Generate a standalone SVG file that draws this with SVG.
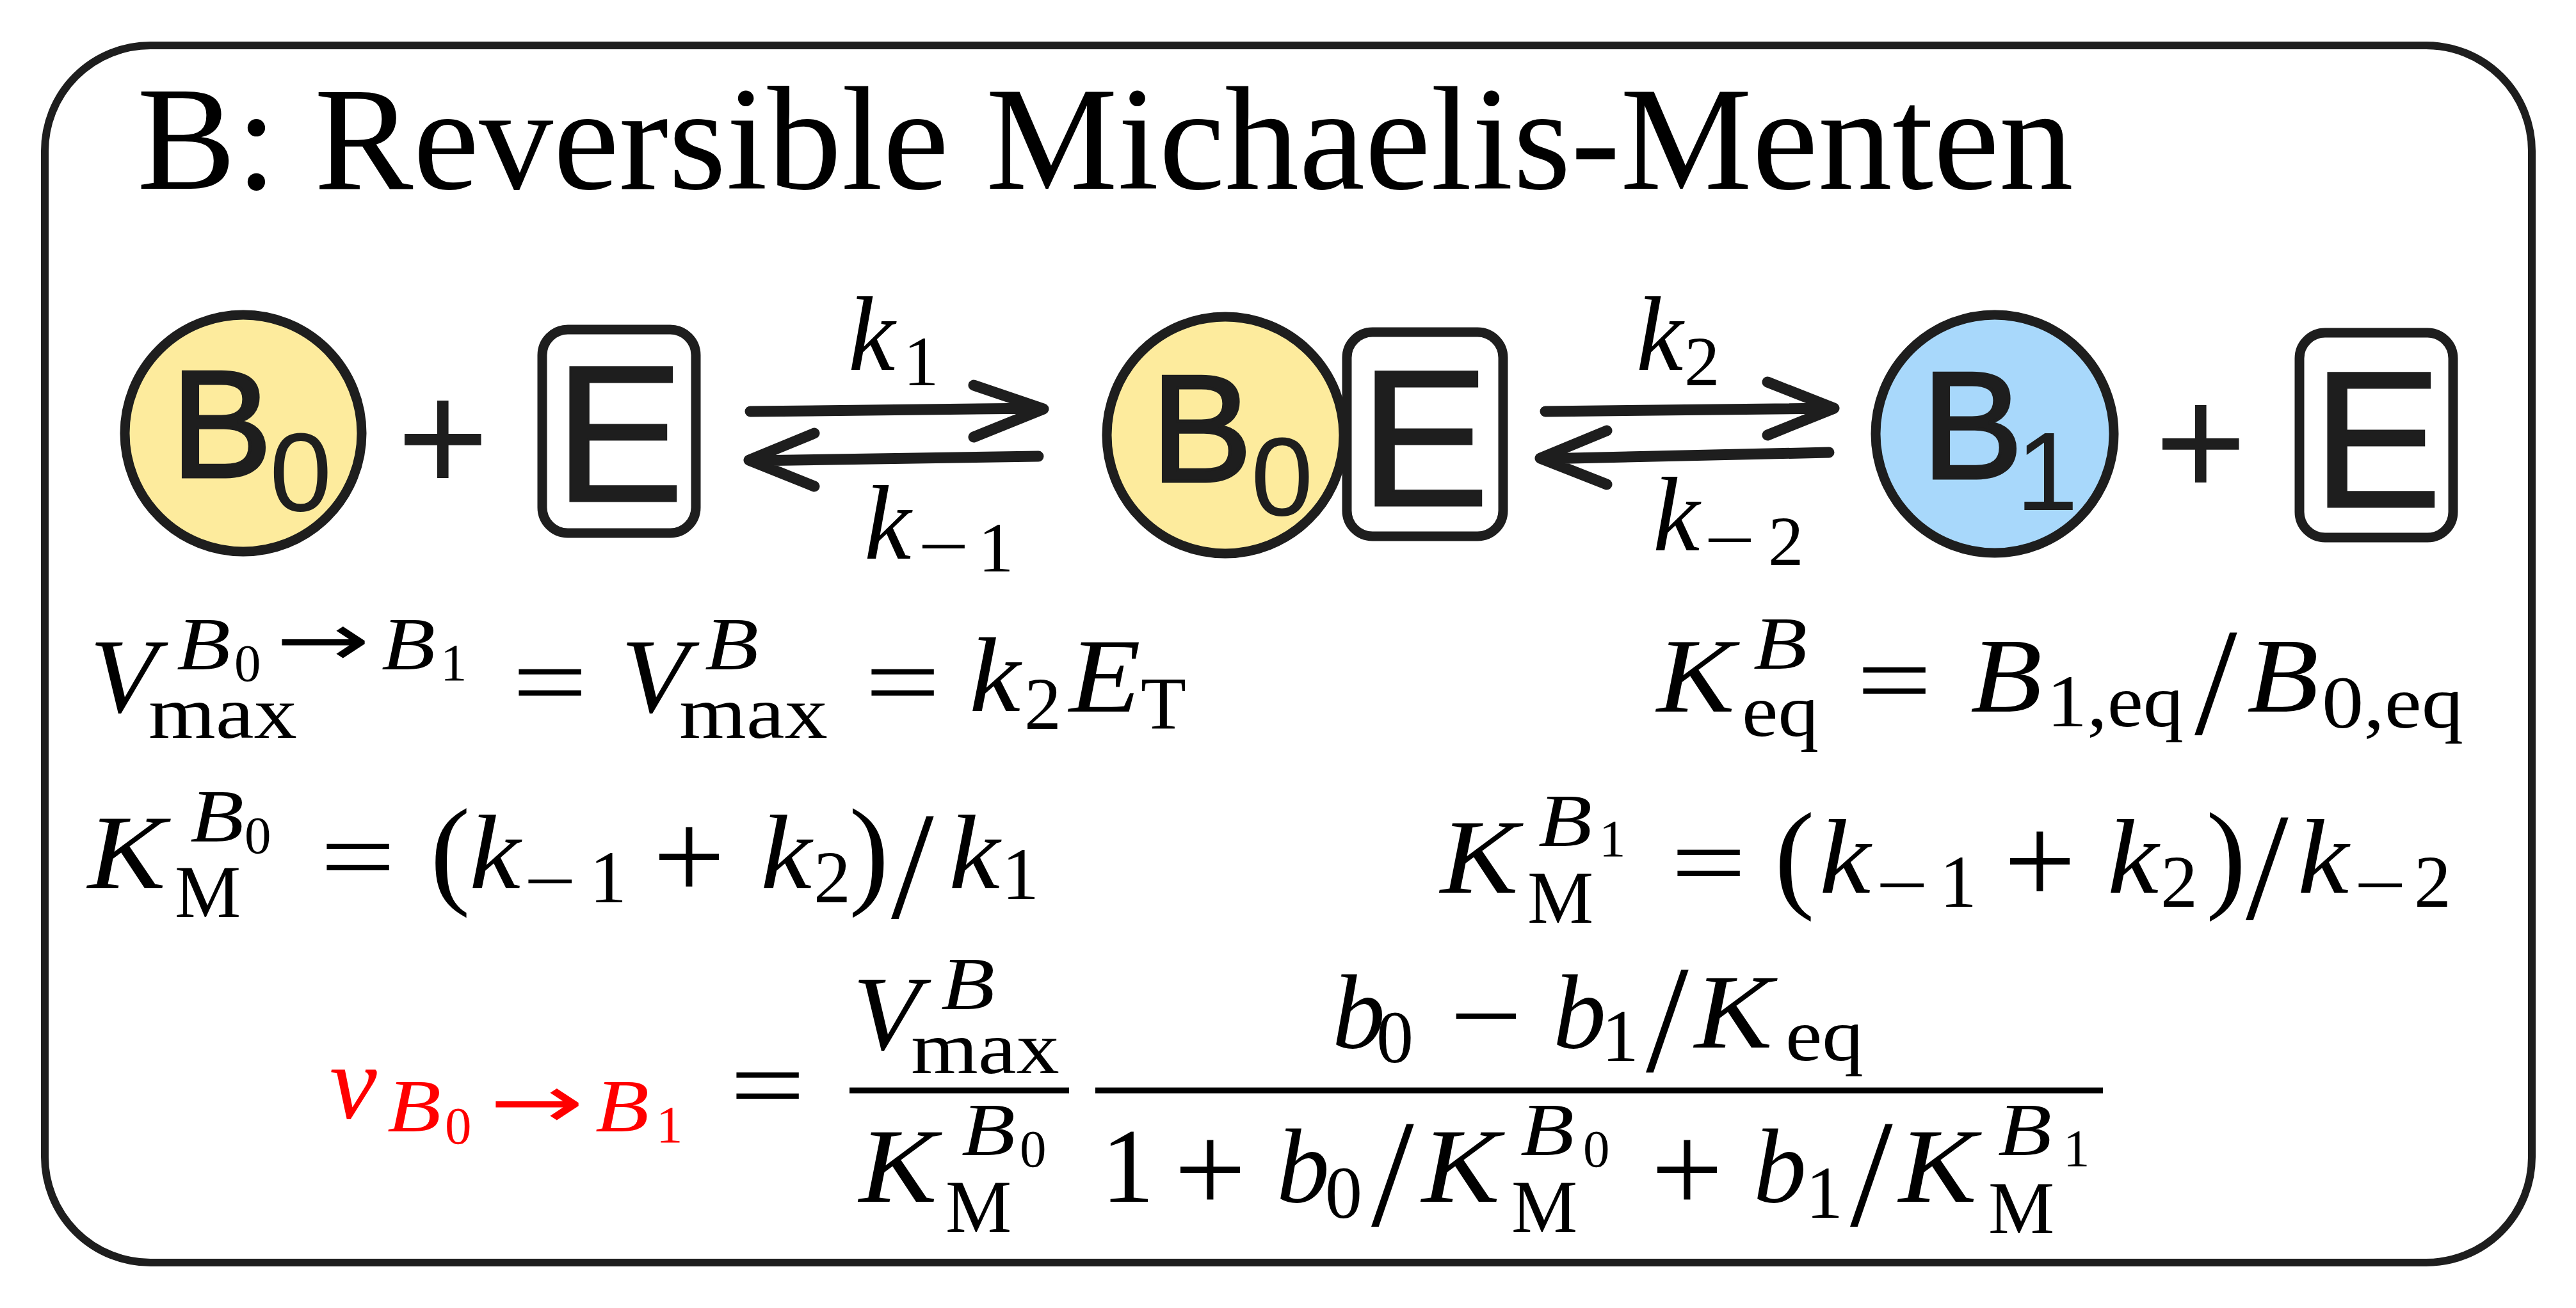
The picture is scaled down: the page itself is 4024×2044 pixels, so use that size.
<svg xmlns="http://www.w3.org/2000/svg" width="4024" height="2044" viewBox="0 0 4024 2044">
<style>
.frame{fill:#fff;stroke:#1e1e1e;stroke-width:12}
.b0{fill:#fdeb9d;stroke:#1e1e1e;stroke-width:15}
.b1{fill:#a8d8fb;stroke:#1e1e1e;stroke-width:15}
.ebox{fill:#fff;stroke:#1e1e1e;stroke-width:15}
.nl{font-family:"Liberation Sans",Arial,sans-serif;fill:#1e1e1e}
.nb{font-size:237px;stroke:#1e1e1e;stroke-width:5}
.ns{font-size:175px;stroke:none}
.ne{font-size:304px;stroke:#1e1e1e;stroke-width:3}
.np{font-size:246px}
.arr{fill:none;stroke:#1e1e1e;stroke-width:17;stroke-linecap:round;stroke-linejoin:round}
.title{font-family:"Liberation Serif",serif;font-size:231px;fill:#000}
.eq{font-family:"Liberation Serif","DejaVu Serif",serif;font-size:166px;fill:#000}
.m{font-style:italic;font-size:166px}
.r{font-style:normal;font-size:166px}
.s{font-style:italic;font-size:116px}
.sr{font-style:normal;font-size:116px}
.ss{font-style:normal;font-size:83px}
.ar{font-family:"DejaVu Sans",sans-serif;font-style:normal;font-size:116px}
.pl{font-style:normal;font-size:200px}
.pa{font-style:normal;font-size:188px}
.sl{font-style:normal;font-size:240px}
.kl{font-style:italic;font-size:165px}
.kr{font-style:normal;font-size:111px}
.red{fill:#ff0000}
.bar{stroke:#000;stroke-width:9}
</style>

<rect class="frame" x="70" y="71" width="3885" height="1902" rx="165" ry="165"/>

<text class="title" x="214" y="295" textLength="3025" lengthAdjust="spacingAndGlyphs">B: Reversible Michaelis-Menten</text>

<g id="node-B0">
  <circle class="b0" cx="380" cy="677" r="185"/>
  <text class="nl nb" x="267" y="745">B<tspan class="ns" x="421" y="798">0</tspan></text>
</g>
<g id="plus-1"><text class="nl np" x="620" y="769">+</text></g>
<g id="node-E1">
  <rect class="ebox" x="847" y="515" width="240" height="318" rx="40"/>
  <text class="nl ne" x="866" y="783">E</text>
</g>

<g id="node-B0E">
  <circle class="b0" cx="1914" cy="680" r="185"/>
  <text class="nl nb" x="1798" y="752">B<tspan class="ns" x="1954" y="805">0</tspan></text>
  <rect class="ebox" x="2104" y="519" width="244" height="319" rx="40"/>
  <text class="nl ne" x="2124" y="790">E</text>
</g>

<g id="node-B1">
  <circle class="b1" cx="3116" cy="678" r="186"/>
  <text class="nl nb" x="3002" y="747">B<tspan class="ns" x="3149" y="797">1</tspan></text>
</g>
<g id="plus-2"><text class="nl np" x="3366" y="776">+</text></g>
<g id="node-E3">
  <rect class="ebox" x="3592" y="520" width="240" height="320" rx="40"/>
  <text class="nl ne" x="3612" y="792">E</text>
</g>

<g id="connectors">
  <path class="arr" d="M1172,643 L1626,638 M1521,602 L1630,639 L1521,683"/>
  <path class="arr" d="M1622,713 L1174,720 M1272,677 L1170,719 L1272,760"/>
  <path class="arr" d="M2414,643 L2861,638 M2761,597 L2865,638 L2761,680"/>
  <path class="arr" d="M2857,707 L2410,717 M2510,673 L2406,716 L2510,757"/>
</g>

<g id="rate-labels">
  <text class="eq kl" x="1325" y="578">k<tspan class="kr" x="1411" y="602">1</tspan></text>
  <text class="eq kl" x="1350" y="873">k<tspan class="kr" x="1434" y="891" textLength="80" lengthAdjust="spacingAndGlyphs">−</tspan><tspan class="kr" x="1528" y="893">1</tspan></text>
  <text class="eq kl" x="2556" y="578">k<tspan class="kr" x="2631" y="602">2</tspan></text>
  <text class="eq kl" x="2582" y="860">k<tspan class="kr" x="2662" y="881" textLength="80" lengthAdjust="spacingAndGlyphs">−</tspan><tspan class="kr" x="2762" y="883">2</tspan></text>
</g>

<g id="eq-vmax">
  <text class="eq"><tspan class="m" x="140" y="1113" textLength="106" lengthAdjust="spacingAndGlyphs">V</tspan><tspan class="s" x="276" y="1046" textLength="84" lengthAdjust="spacingAndGlyphs">B</tspan><tspan class="ss" x="366" y="1064">0</tspan><tspan class="ar" x="430" y="1040" textLength="148" lengthAdjust="spacingAndGlyphs">→</tspan><tspan class="s" x="596" y="1046" textLength="84" lengthAdjust="spacingAndGlyphs">B</tspan><tspan class="ss" x="688" y="1063">1</tspan><tspan class="sr" x="232" y="1153" textLength="232" lengthAdjust="spacingAndGlyphs">max</tspan><tspan class="r" x="800" y="1121" textLength="118" lengthAdjust="spacingAndGlyphs">=</tspan><tspan class="m" x="970" y="1113" textLength="106" lengthAdjust="spacingAndGlyphs">V</tspan><tspan class="s" x="1101" y="1046" textLength="84" lengthAdjust="spacingAndGlyphs">B</tspan><tspan class="sr" x="1061" y="1153" textLength="232" lengthAdjust="spacingAndGlyphs">max</tspan><tspan class="r" x="1351" y="1121" textLength="118" lengthAdjust="spacingAndGlyphs">=</tspan><tspan class="m" x="1514" y="1111" textLength="80" lengthAdjust="spacingAndGlyphs">k</tspan><tspan class="sr" x="1600" y="1139">2</tspan><tspan class="m" x="1670" y="1112" textLength="112" lengthAdjust="spacingAndGlyphs">E</tspan><tspan class="sr" x="1782" y="1139">T</tspan></text>
</g>

<g id="eq-km-b0">
  <text class="eq"><tspan class="m" x="137" y="1388" textLength="122" lengthAdjust="spacingAndGlyphs">K</tspan><tspan class="s" x="297" y="1315" textLength="84" lengthAdjust="spacingAndGlyphs">B</tspan><tspan class="ss" x="382" y="1333">0</tspan><tspan class="sr" x="273" y="1433">M</tspan><tspan class="r" x="500" y="1394" textLength="118" lengthAdjust="spacingAndGlyphs">=</tspan><tspan class="pa" x="672" y="1394">(</tspan><tspan class="m" x="733" y="1388" textLength="80" lengthAdjust="spacingAndGlyphs">k</tspan><tspan class="sr" x="818" y="1416" textLength="82" lengthAdjust="spacingAndGlyphs">−</tspan><tspan class="sr" x="921" y="1410">1</tspan><tspan class="pl" x="1020" y="1405">+</tspan><tspan class="m" x="1188" y="1388" textLength="80" lengthAdjust="spacingAndGlyphs">k</tspan><tspan class="sr" x="1271" y="1410">2</tspan><tspan class="pa" x="1326" y="1394">)</tspan><tspan class="sl" x="1392" y="1434">/</tspan><tspan class="m" x="1482" y="1388" textLength="80" lengthAdjust="spacingAndGlyphs">k</tspan><tspan class="sr" x="1565" y="1405">1</tspan></text>
</g>

<g id="eq-keq">
  <text class="eq"><tspan class="m" x="2588" y="1112" textLength="122" lengthAdjust="spacingAndGlyphs">K</tspan><tspan class="s" x="2739" y="1045" textLength="84" lengthAdjust="spacingAndGlyphs">B</tspan><tspan class="sr" x="2721" y="1150" textLength="120" lengthAdjust="spacingAndGlyphs">eq</tspan><tspan class="r" x="2900" y="1118" textLength="118" lengthAdjust="spacingAndGlyphs">=</tspan><tspan class="m" x="3078" y="1112" textLength="112" lengthAdjust="spacingAndGlyphs">B</tspan><tspan class="sr" x="3197" y="1135" textLength="214" lengthAdjust="spacingAndGlyphs">1,eq</tspan><tspan class="sl" x="3428" y="1147">/</tspan><tspan class="m" x="3510" y="1112" textLength="112" lengthAdjust="spacingAndGlyphs">B</tspan><tspan class="sr" x="3627" y="1137" textLength="221" lengthAdjust="spacingAndGlyphs">0,eq</tspan></text>
</g>

<g id="eq-km-b1">
  <text class="eq"><tspan class="m" x="2250" y="1395" textLength="122" lengthAdjust="spacingAndGlyphs">K</tspan><tspan class="s" x="2403" y="1322" textLength="84" lengthAdjust="spacingAndGlyphs">B</tspan><tspan class="ss" x="2498" y="1338">1</tspan><tspan class="sr" x="2386" y="1442">M</tspan><tspan class="r" x="2610" y="1403" textLength="118" lengthAdjust="spacingAndGlyphs">=</tspan><tspan class="pa" x="2772" y="1400">(</tspan><tspan class="m" x="2842" y="1395" textLength="80" lengthAdjust="spacingAndGlyphs">k</tspan><tspan class="sr" x="2930" y="1422" textLength="82" lengthAdjust="spacingAndGlyphs">−</tspan><tspan class="sr" x="3030" y="1417">1</tspan><tspan class="pl" x="3130" y="1412">+</tspan><tspan class="m" x="3292" y="1395" textLength="80" lengthAdjust="spacingAndGlyphs">k</tspan><tspan class="sr" x="3375" y="1417">2</tspan><tspan class="pa" x="3446" y="1400">)</tspan><tspan class="sl" x="3508" y="1436">/</tspan><tspan class="m" x="3589" y="1395" textLength="80" lengthAdjust="spacingAndGlyphs">k</tspan><tspan class="sr" x="3677" y="1422" textLength="82" lengthAdjust="spacingAndGlyphs">−</tspan><tspan class="sr" x="3771" y="1417">2</tspan></text>
</g>

<g id="eq-rate">
  <text class="eq red"><tspan class="m" x="515" y="1747">v</tspan><tspan class="s" x="605" y="1768" textLength="84" lengthAdjust="spacingAndGlyphs">B</tspan><tspan class="ss" x="695" y="1787">0</tspan><tspan class="ar" x="764" y="1762" textLength="148" lengthAdjust="spacingAndGlyphs">→</tspan><tspan class="s" x="930" y="1768" textLength="84" lengthAdjust="spacingAndGlyphs">B</tspan><tspan class="ss" x="1025" y="1785">1</tspan></text>
  <line class="bar" x1="1327" y1="1704" x2="1670" y2="1704"/>
  <line class="bar" x1="1711" y1="1704" x2="3285" y2="1704"/>
  <text class="eq"><tspan class="r" x="1140" y="1751" textLength="118" lengthAdjust="spacingAndGlyphs">=</tspan><tspan class="m" x="1332" y="1640" textLength="106" lengthAdjust="spacingAndGlyphs">V</tspan><tspan class="s" x="1470" y="1577" textLength="84" lengthAdjust="spacingAndGlyphs">B</tspan><tspan class="sr" x="1423" y="1677" textLength="232" lengthAdjust="spacingAndGlyphs">max</tspan><tspan class="m" x="1342" y="1878" textLength="122" lengthAdjust="spacingAndGlyphs">K</tspan><tspan class="s" x="1502" y="1805" textLength="84" lengthAdjust="spacingAndGlyphs">B</tspan><tspan class="ss" x="1593" y="1823">0</tspan><tspan class="sr" x="1477" y="1925">M</tspan><tspan class="m" x="2081" y="1637">b</tspan><tspan class="sr" x="2150" y="1660">0</tspan><tspan class="r" x="2265" y="1643" textLength="113" lengthAdjust="spacingAndGlyphs">−</tspan><tspan class="m" x="2426" y="1637">b</tspan><tspan class="sr" x="2502" y="1658">1</tspan><tspan class="sl" x="2571" y="1674">/</tspan><tspan class="m" x="2647" y="1637" textLength="122" lengthAdjust="spacingAndGlyphs">K</tspan><tspan class="sr" x="2789" y="1657" textLength="122" lengthAdjust="spacingAndGlyphs">eq</tspan><tspan class="r" x="1720" y="1878">1</tspan><tspan class="pl" x="1834" y="1894">+</tspan><tspan class="m" x="1994" y="1878">b</tspan><tspan class="sr" x="2070" y="1903">0</tspan><tspan class="sl" x="2142" y="1915">/</tspan><tspan class="m" x="2221" y="1878" textLength="122" lengthAdjust="spacingAndGlyphs">K</tspan><tspan class="s" x="2375" y="1805" textLength="84" lengthAdjust="spacingAndGlyphs">B</tspan><tspan class="ss" x="2473" y="1823">0</tspan><tspan class="sr" x="2361" y="1925">M</tspan><tspan class="pl" x="2579" y="1894">+</tspan><tspan class="m" x="2739" y="1878">b</tspan><tspan class="sr" x="2821" y="1903">1</tspan><tspan class="sl" x="2890" y="1915">/</tspan><tspan class="m" x="2966" y="1878" textLength="122" lengthAdjust="spacingAndGlyphs">K</tspan><tspan class="s" x="3121" y="1805" textLength="84" lengthAdjust="spacingAndGlyphs">B</tspan><tspan class="ss" x="3223" y="1822">1</tspan><tspan class="sr" x="3106" y="1927">M</tspan></text>
</g>
</svg>
